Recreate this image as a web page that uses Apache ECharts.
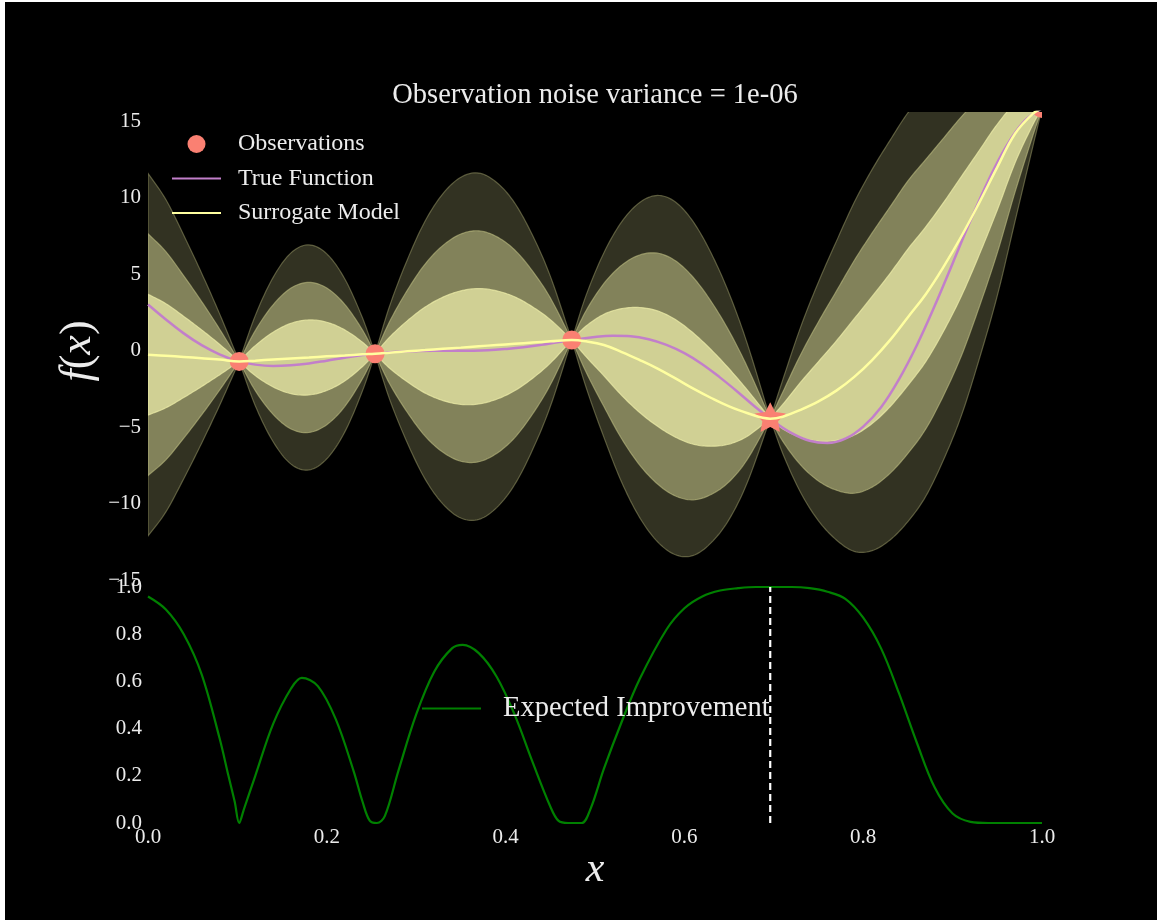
<!DOCTYPE html>
<html>
<head>
<meta charset="utf-8">
<script src="https://cdn.jsdelivr.net/npm/echarts@6/dist/echarts.min.js"></script>
<style>
  html, body { margin: 0; padding: 0; background: #000; }
  #chart { position: absolute; left: 0; top: 0; width: 1160px; height: 922px; background: #000; }
  #frame { position: absolute; left: 0; top: 0; width: 1160px; height: 922px; box-sizing: border-box;
           border-style: solid; border-color: #fff; border-width: 2px 3px 2px 5px; pointer-events: none; }
</style>
</head>
<body>
<div id="chart"></div>
<div id="frame"></div>
<script>
// ---- Gaussian-process surrogate: posterior mean and standard deviation on a grid ----
const gridX = [0, 0.02, 0.04, 0.06, 0.08, 0.102,
  0.12, 0.14, 0.16, 0.18, 0.20, 0.22, 0.24, 0.254,
  0.27, 0.29, 0.31, 0.33, 0.35, 0.37, 0.39, 0.41, 0.43, 0.45, 0.474,
  0.49, 0.51, 0.53, 0.55, 0.57, 0.59, 0.61, 0.63, 0.65, 0.67, 0.696,
  0.71, 0.73, 0.75, 0.77, 0.79, 0.81, 0.83, 0.85, 0.87, 0.89, 0.91, 0.93, 0.95, 0.97, 0.99, 1.0];
const surrogateMean = [-0.25, -0.32, -0.40, -0.48, -0.57, -0.69,
  -0.64, -0.57, -0.50, -0.43, -0.36, -0.30, -0.23, -0.19,
  -0.12, -0.03, 0.05, 0.13, 0.21, 0.30, 0.38, 0.46, 0.54, 0.62, 0.71,
  0.62, 0.38, -0.08, -0.60, -1.16, -1.80, -2.47, -3.08, -3.63, -4.06, -4.43,
  -4.30, -3.85, -3.30, -2.60, -1.70, -0.60, 0.70, 2.20, 3.70, 5.50, 7.50, 9.70, 12.00, 14.20, 15.50, 15.83];
const surrogateStd = [3.95, 3.40, 2.65, 1.85, 1.00, 0,
  0.98, 1.79, 2.30, 2.45, 2.23, 1.67, 0.79, 0,
  1.00, 1.99, 2.81, 3.38, 3.71, 3.77, 3.54, 3.07, 2.34, 1.42, 0,
  1.00, 2.01, 2.84, 3.43, 3.77, 3.84, 3.63, 3.15, 2.46, 1.53, 0,
  0.80, 1.80, 2.60, 3.25, 3.80, 4.15, 4.35, 4.45, 4.40, 4.20, 3.90, 3.40, 2.80, 1.90, 0.70, 0];

// ---- objective function ----
const trueX = [0, 0.02, 0.04, 0.06, 0.08, 0.10, 0.12, 0.14, 0.16, 0.18, 0.20, 0.22, 0.24, 0.26, 0.28,
  0.30, 0.32, 0.34, 0.36, 0.38, 0.40, 0.42, 0.44, 0.46, 0.48, 0.50, 0.52, 0.54, 0.56, 0.58,
  0.60, 0.62, 0.64, 0.66, 0.68, 0.70, 0.72, 0.74, 0.76, 0.78, 0.80, 0.82, 0.84, 0.86, 0.88,
  0.90, 0.92, 0.94, 0.96, 0.98, 1.0];
const trueY = [3.03, 2.05, 1.14, 0.37, -0.23, -0.66, -0.90, -0.99, -0.94, -0.82, -0.64, -0.45, -0.28, -0.15, -0.06,
  -0.02, 0.0, 0.0, 0.01, 0.04, 0.12, 0.23, 0.39, 0.58, 0.76, 0.91, 0.98, 0.95, 0.76, 0.39,
  -0.15, -0.87, -1.75, -2.70, -3.70, -4.61, -5.37, -5.87, -6.02, -5.74, -4.95, -3.68, -1.86, 0.37, 2.94,
  5.71, 8.51, 11.13, 13.36, 14.99, 15.83];

// ---- sampled points ----
const obsX = [0.102, 0.254, 0.474, 1.0];
const obsY = [-0.69, -0.19, 0.71, 15.83];
const bestX = [0.696];
const bestY = [-4.43];

// ---- acquisition function ----
const eiX = [0, 0.02, 0.04, 0.06, 0.08, 0.09, 0.097, 0.102, 0.107, 0.12, 0.14, 0.16, 0.172,
  0.19, 0.21, 0.23, 0.24, 0.248, 0.256, 0.265, 0.28, 0.30, 0.32, 0.34, 0.352,
  0.37, 0.39, 0.41, 0.43, 0.45, 0.459, 0.47, 0.485, 0.495, 0.51, 0.53, 0.55,
  0.58, 0.60, 0.62, 0.64, 0.66, 0.68, 0.70, 0.72, 0.74, 0.76, 0.78, 0.80,
  0.82, 0.84, 0.86, 0.88, 0.90, 0.92, 0.94, 0.97, 1.0];
const eiY = [0.96, 0.905, 0.8, 0.63, 0.36, 0.2, 0.09, 0.0, 0.055, 0.2, 0.42, 0.57, 0.615,
  0.58, 0.44, 0.22, 0.09, 0.01, 0.0, 0.03, 0.22, 0.46, 0.64, 0.74, 0.755,
  0.72, 0.62, 0.46, 0.26, 0.07, 0.01, 0.0, 0.0, 0.06, 0.23, 0.43, 0.61,
  0.82, 0.91, 0.96, 0.985, 0.995, 1.0, 1.0, 1.0, 0.995, 0.98, 0.95, 0.87,
  0.74, 0.55, 0.34, 0.15, 0.04, 0.005, 0.0, 0.0, 0.0];
const nextX = 0.696;

const titleText = 'Observation noise variance = 1e-06';
const FONT = '"Liberation Serif", "DejaVu Serif", serif';
const TEXT = '#ececec';
const SALMON = '#fa8072';

const zip = (a, b) => a.map((v, i) => [v, b[i]]);

// Cubic Hermite sampling of one segment (data space)
function hermite(xs, ys, steps) {
  const n = xs.length, m = [];
  for (let i = 0; i < n; i++) {
    if (i === 0) m.push((ys[1] - ys[0]) / (xs[1] - xs[0]));
    else if (i === n - 1) m.push((ys[n - 1] - ys[n - 2]) / (xs[n - 1] - xs[n - 2]));
    else m.push((ys[i + 1] - ys[i - 1]) / (xs[i + 1] - xs[i - 1]));
  }
  const out = [];
  for (let i = 0; i < n - 1; i++) {
    const h = xs[i + 1] - xs[i];
    for (let s = 0; s < steps; s++) {
      const t = s / steps, t2 = t * t, t3 = t2 * t;
      out.push([xs[i] + t * h,
        (2 * t3 - 3 * t2 + 1) * ys[i] + (t3 - 2 * t2 + t) * h * m[i] +
        (-2 * t3 + 3 * t2) * ys[i + 1] + (t3 - t2) * h * m[i + 1]]);
    }
  }
  out.push([xs[n - 1], ys[n - 1]]);
  return out;
}

// Curve through a band boundary, kept sharp where the std is zero (the sampled points)
function boundary(sign, k) {
  const ys = surrogateMean.map((m, i) => m + sign * k * surrogateStd[i]);
  const knots = [0];
  surrogateStd.forEach((s, i) => { if (i > 0 && s === 0) knots.push(i); });
  if (knots[knots.length - 1] !== gridX.length - 1) knots.push(gridX.length - 1);
  let pts = [];
  for (let j = 0; j < knots.length - 1; j++) {
    const a = knots[j], b = knots[j + 1];
    const seg = hermite(gridX.slice(a, b + 1), ys.slice(a, b + 1), 10);
    pts = pts.concat(j === 0 ? seg : seg.slice(1));
  }
  return pts;
}

function bandSeries(k, fill, stroke) {
  return {
    type: 'custom', xAxisIndex: 0, yAxisIndex: 0, clip: true, silent: true, z: 1,
    data: [0],
    renderItem: function (params, api) {
      const up = boundary(1, k).map(p => api.coord(p));
      const lo = boundary(-1, k).map(p => api.coord(p)).reverse();
      return {
        type: 'polygon',
        shape: { points: up.concat(lo) },
        style: { fill: fill, stroke: stroke, lineWidth: 1.2 }
      };
    }
  };
}

// Five-pointed star outline around a pixel centre
function starPoints(cx, cy, R) {
  const pts = [];
  for (let i = 0; i < 10; i++) {
    const r = i % 2 === 0 ? R : R * 0.5;
    const a = -Math.PI / 2 + i * Math.PI / 5;
    pts.push([cx + r * Math.cos(a), cy + r * Math.sin(a)]);
  }
  return pts;
}

const chart = echarts.init(document.getElementById('chart'), null, { renderer: 'canvas' });

const labelStyle = { color: TEXT, fontFamily: FONT, fontSize: 21 };
const hideSymbol = { opacity: 0 };

const option = {
  backgroundColor: '#000',
  animation: false,
  graphic: [
    { type: 'text', x: 595, y: 96, style: { text: titleText, align: 'center', verticalAlign: 'middle',
      fill: TEXT, font: '28.5px ' + FONT } },
    { type: 'text', x: 78, y: 351, rotation: Math.PI / 2,
      style: { text: '{i|f}({i|x})', align: 'center', verticalAlign: 'middle', fill: TEXT,
        font: '44px ' + FONT, rich: { i: { fontStyle: 'italic', fontSize: 44, fontFamily: FONT, fill: TEXT } } } },
    { type: 'text', x: 595, y: 870, style: { text: 'x', align: 'center', verticalAlign: 'middle',
      fill: TEXT, font: 'italic 42px ' + FONT } }
  ],
  legend: [
    {
      data: [{ name: 'Observations', icon: 'circle' },
             { name: 'True Function', itemStyle: hideSymbol },
             { name: 'Surrogate Model', itemStyle: hideSymbol }],
      orient: 'vertical', left: 171, top: 132, padding: 0,
      itemWidth: 49, itemHeight: 18, itemGap: 10.5,
      textStyle: { color: TEXT, fontFamily: FONT, fontSize: 24, padding: [0, 0, 0, 12] }
    },
    {
      data: [{ name: 'Expected Improvement', itemStyle: hideSymbol }],
      left: 421, top: 694, padding: 0, itemWidth: 59, itemHeight: 18,
      textStyle: { color: TEXT, fontFamily: FONT, fontSize: 28.5, padding: [0, 0, 0, 17] }
    }
  ],
  grid: [
    { left: 148, right: 118, top: 112, height: 468.5 },
    { left: 148, right: 118, top: 587, height: 236 }
  ],
  xAxis: [
    { type: 'value', gridIndex: 0, min: 0, max: 1, interval: 0.2,
      axisLine: { show: false }, axisTick: { show: false }, splitLine: { show: false },
      axisLabel: { show: false } },
    { type: 'value', gridIndex: 1, min: 0, max: 1, interval: 0.2,
      axisLine: { show: false }, axisTick: { show: false }, splitLine: { show: false },
      axisLabel: Object.assign({ margin: 4, formatter: v => v.toFixed(1) }, labelStyle) }
  ],
  yAxis: [
    { type: 'value', gridIndex: 0, min: -15, max: 15.6, interval: 5,
      axisLine: { show: false }, axisTick: { show: false }, splitLine: { show: false },
      axisLabel: Object.assign({ margin: 7, formatter: v => {
        if (Math.abs(v / 5 - Math.round(v / 5)) > 1e-6) return '';
        return v < 0 ? '\u2212' + Math.abs(v) : String(v);
      } }, labelStyle) },
    { type: 'value', gridIndex: 1, min: 0, max: 1, interval: 0.2,
      axisLine: { show: false }, axisTick: { show: false }, splitLine: { show: false },
      axisLabel: Object.assign({ margin: 6, formatter: v => v.toFixed(1) }, labelStyle) }
  ],
  series: [
    bandSeries(3, '#323222', 'rgba(150,150,100,0.55)'),
    bandSeries(2, '#82825a', 'rgba(190,190,130,0.6)'),
    bandSeries(1, '#d0d094', 'rgba(240,240,170,0.7)'),
    {
      name: 'True Function', type: 'line', xAxisIndex: 0, yAxisIndex: 0, z: 3,
      data: zip(trueX, trueY), smooth: 0.4, symbol: 'none',
      lineStyle: { color: '#c27fca', width: 2.5 }, itemStyle: { color: '#c27fca' }, silent: true
    },
    {
      name: 'Observations', type: 'custom', xAxisIndex: 0, yAxisIndex: 0, clip: true, silent: true, z: 4,
      itemStyle: { color: SALMON },
      data: zip(obsX, obsY),
      renderItem: function (params, api) {
        const p = api.coord([api.value(0), api.value(1)]);
        return { type: 'circle', shape: { cx: p[0], cy: p[1], r: 9.5 }, style: { fill: SALMON } };
      }
    },
    {
      name: 'Best Observation', type: 'custom', xAxisIndex: 0, yAxisIndex: 0, clip: false, silent: true, z: 4,
      itemStyle: { color: SALMON },
      data: zip(bestX, bestY),
      renderItem: function (params, api) {
        const p = api.coord([api.value(0), api.value(1)]);
        return { type: 'polygon', shape: { points: starPoints(p[0], p[1], 16.5) }, style: { fill: SALMON } };
      }
    },
    {
      name: 'Surrogate Model', type: 'line', xAxisIndex: 0, yAxisIndex: 0, z: 5,
      data: zip(gridX, surrogateMean), smooth: 0.4, symbol: 'none',
      lineStyle: { color: '#ffffa0', width: 2.5 }, itemStyle: { color: '#ffffa0' }, silent: true
    },
    {
      name: 'Expected Improvement', type: 'line', xAxisIndex: 1, yAxisIndex: 1, clip: false,
      data: zip(eiX, eiY), smooth: 0.35, symbol: 'none',
      lineStyle: { color: '#008000', width: 2.2 }, itemStyle: { color: '#008000' }, silent: true
    },
    {
      name: 'Next Sample', type: 'line', xAxisIndex: 1, yAxisIndex: 1, clip: false,
      data: [[nextX, 0], [nextX, 1]], symbol: 'none', silent: true,
      lineStyle: { color: '#ffffff', width: 2.2, type: [7, 4] }
    }
  ]
};

chart.setOption(option);
</script>
</body>
</html>
